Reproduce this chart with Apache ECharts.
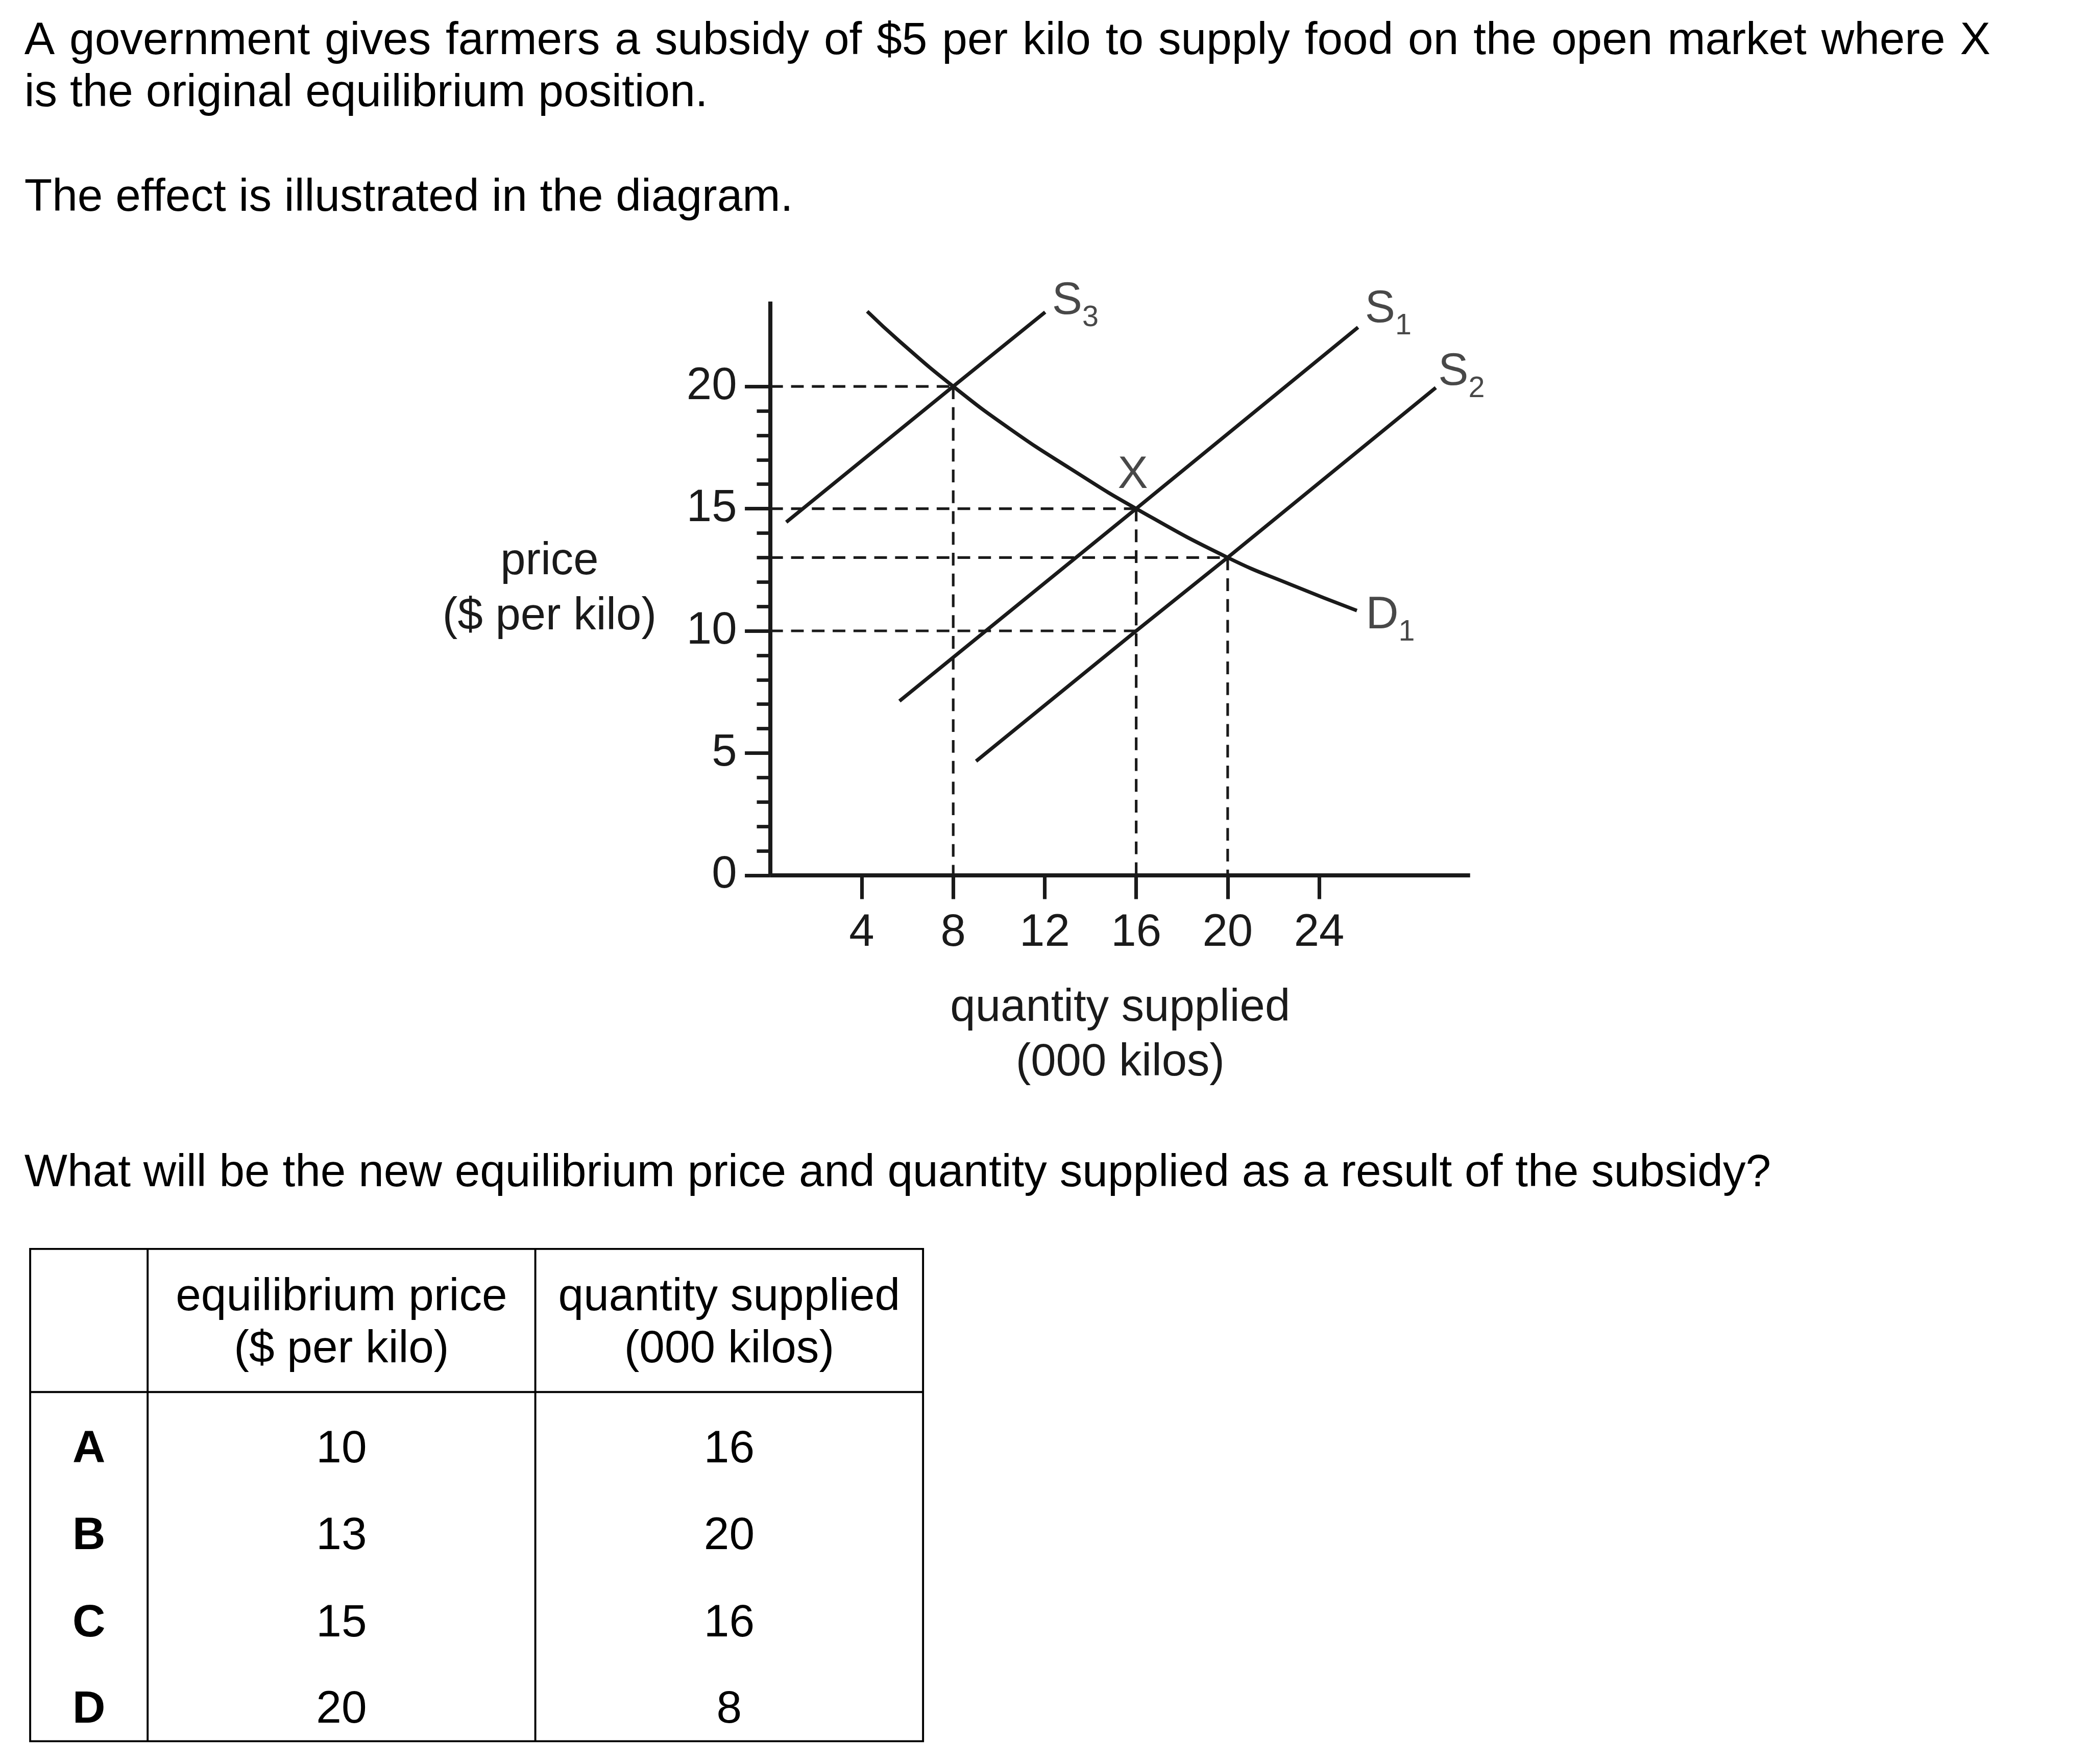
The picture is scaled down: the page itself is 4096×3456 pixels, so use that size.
<!DOCTYPE html>
<html>
<head>
<meta charset="utf-8">
<script src="https://cdn.jsdelivr.net/npm/echarts@6/dist/echarts.min.js"></script>
<style>
  html, body { margin: 0; padding: 0; background: #ffffff; }
  #chart { width: 4096px; height: 3456px; }
</style>
</head>
<body>
<div id="chart"></div>
<script>
// ---------------- data ----------------
const xTickValues = [4, 8, 12, 16, 20, 24];
const yTickValues = [0, 5, 10, 15, 20];
const yMinorTickValues = [1, 2, 3, 4, 6, 7, 8, 9, 11, 12, 13, 14, 16, 17, 18, 19];
const xAxisMax = 30.6;
const yAxisMax = 23.47;

const supplyS1 = [[5.65, 7.13], [16, 15], [25.7, 22.42]];
const supplyS2 = [[9.0, 4.67], [16, 10], [20, 13], [29.1, 19.95]];
const supplyS3 = [[0.7, 14.45], [8, 20], [12.02, 23.04]];
const demandD1 = [[4.24, 23.07], [5.65, 21.85], [8, 20], [10.5, 18.25], [13.1, 16.65],
                  [16, 15], [20, 13], [22.8, 11.88], [25.65, 10.83]];
const equilibriumX = [16, 15];
const horizontalGuides = [[8, 20], [16, 15], [20, 13], [16, 10]];
const verticalGuides = [[8, 20], [16, 15], [20, 13]];

const questionLines = [
  'A government gives farmers a subsidy of $5 per kilo to supply food on the open market where X',
  'is the original equilibrium position.',
  'The effect is illustrated in the diagram.'
];
const questionPrompt = 'What will be the new equilibrium price and quantity supplied as a result of the subsidy?';
const tableHeaders = [['equilibrium price', '($ per kilo)'], ['quantity supplied', '(000 kilos)']];
const optionLetters = ['A', 'B', 'C', 'D'];
const optionPrices = ['10', '13', '15', '20'];
const optionQuantities = ['16', '20', '16', '8'];

// ---------------- layout / style ----------------
const S = 0.975;
const INK = '#1a1a1a';
const FONT = '"Liberation Sans", Arial, Helvetica, sans-serif';
const FS = 91 * S;      // diagram text
const FQ = 91.5 * S;    // question text
const SUB = 59 * S;     // subscripts
const K = 0.276;        // em-centre ("middle" baseline) above alphabetic baseline, fraction of font size

const X0 = 1547.5 * S, Y0 = 1759 * S, XR = 2953.6 * S, YT = 606 * S;

const last = arr => arr[arr.length - 1];

const graphics = [];
function text(str, x, baseline, fs, opts) {
  opts = opts || {};
  const style = {
    text: str, fontSize: fs, fontFamily: FONT, fill: opts.fill || '#000',
    fontWeight: opts.weight || 'normal', align: opts.align || 'left', verticalAlign: 'middle'
  };
  if (opts.rich) style.rich = opts.rich;
  graphics.push({ type: 'text', x: x, y: baseline - K * fs, silent: true, style: style });
}

// question text (first line justified to the paragraph width)
const qLeft = 49 * S, qRight = 3999 * S;
const qBase = [108.3, 213.3, 424];
(function () {
  const ctx = document.createElement('canvas').getContext('2d');
  ctx.font = FQ + 'px ' + FONT;
  const line = questionLines[0];
  const words = line.split(' ');
  const natural = ctx.measureText(line).width;
  const spaceW = ctx.measureText(' ').width;
  const extra = Math.max(0, (qRight - qLeft - natural) / (words.length - 1));
  const richText = words.join('{sp| }');
  text(richText, qLeft, qBase[0] * S, FQ, { rich: { sp: { width: spaceW + extra, fontSize: FQ, fontFamily: FONT } } });
})();
text(questionLines[1], qLeft, qBase[1] * S, FQ);
text(questionLines[2], qLeft, qBase[2] * S, FQ);
text(questionPrompt, qLeft, 2384 * S, FQ);

// y axis title
text('price', 1104 * S, 1154.3 * S, FS, { align: 'center', fill: INK });
text('($ per kilo)', 1104 * S, 1265 * S, FS, { align: 'center', fill: INK });

// table
const tL = 60.6 * S, tT = 2509.6 * S, tR = 1854.5 * S, tB = 3498.8 * S;
const c1 = 296.6 * S, c2 = 1075.5 * S, hB = 2797.2 * S, TW = 4 * S;
graphics.push({ type: 'rect', silent: true, shape: { x: tL, y: tT, width: tR - tL, height: tB - tT },
  style: { fill: 'none', stroke: '#000', lineWidth: TW } });
[c1, c2].forEach(cx => graphics.push({ type: 'line', silent: true,
  shape: { x1: cx, y1: tT, x2: cx, y2: tB }, style: { stroke: '#000', lineWidth: TW } }));
graphics.push({ type: 'line', silent: true, shape: { x1: tL, y1: hB, x2: tR, y2: hB },
  style: { stroke: '#000', lineWidth: TW } });
const colCentres = [(tL + c1) / 2, (c1 + c2) / 2, (c2 + tR) / 2];
const headBase = [2632.7 * S, 2737.9 * S];
tableHeaders.forEach((h, j) => h.forEach((l, i) => text(l, colCentres[j + 1], headBase[i], FQ, { align: 'center' })));
const rowBase = [2938, 3113, 3288, 3462].map(v => v * S);
optionLetters.forEach((l, i) => {
  text(l, colCentres[0], rowBase[i], FQ, { align: 'center', weight: 'bold' });
  text(optionPrices[i], colCentres[1], rowBase[i], FQ, { align: 'center' });
  text(optionQuantities[i], colCentres[2], rowBase[i], FQ, { align: 'center' });
});

// ---------------- series ----------------
function guide(data) {
  return { type: 'line', data: data, symbol: 'none', silent: true, z: 1, clip: false,
    lineStyle: { color: INK, width: 5.3 * S, type: [25.5 * S, 16.3 * S], cap: 'butt' } };
}
function curve(data, smooth) {
  return { type: 'line', data: data, symbol: 'none', silent: true, z: 3, clip: false,
    smooth: smooth || false,
    lineStyle: { color: INK, width: 7.3 * S, cap: 'butt', join: 'round' } };
}
const subRich = {
  s: { fontSize: FS, lineHeight: FS, fontFamily: FONT, color: INK },
  b: { fontSize: SUB, lineHeight: SUB, fontFamily: FONT, color: INK, padding: [66.8 * S, 0, 0, 0] }
};
function subLabel(point, main, sub, offset) {
  return { value: point, label: { show: true, position: 'right', distance: 0, offset: offset,
    formatter: '{s|' + main + '}{b|' + sub + '}', rich: subRich } };
}

const series = [];
horizontalGuides.forEach(p => series.push(guide([[0, p[1]], [p[0], p[1]]])));
verticalGuides.forEach(p => series.push(guide([[p[0], p[1]], [p[0], 0]])));
series.push(curve(supplyS3));
series.push(curve(supplyS1));
series.push(curve(supplyS2));
series.push(curve(demandD1, 0.5));
series.push({
  type: 'scatter', symbolSize: 1, silent: true, z: 5, clip: false,
  itemStyle: { color: 'rgba(0,0,0,0)' },
  data: [
    subLabel(last(supplyS3), 'S', '3', [13.0, -20.5]),
    subLabel(last(supplyS1), 'S', '1', [13.1, -34.5]),
    subLabel(last(supplyS2), 'S', '2', [4.3, -29.7]),
    subLabel(last(demandD1), 'D', '1', [17.0, 10.4]),
    { value: equilibriumX, label: { show: true, position: 'inside', formatter: 'X',
      offset: [-6.5, -65.1], fontSize: FS, fontFamily: FONT, color: INK } }
  ]
});

const axisLineStyle = { color: INK, width: 8.3 * S, cap: 'butt' };
const option = {
  animation: false,
  backgroundColor: '#ffffff',
  grid: { left: X0, top: YT, right: 4096 - XR, bottom: 3456 - Y0, containLabel: false, outerBoundsMode: 'none' },
  xAxis: {
    type: 'value', min: 0, max: xAxisMax,
    axisLine: { show: true, onZero: false, lineStyle: axisLineStyle },
    axisTick: { show: true, customValues: xTickValues, length: 47.7 * S, lineStyle: { color: INK, width: 7.3 * S } },
    axisLabel: { show: true, customValues: xTickValues, margin: 69.1, fontSize: FS, lineHeight: FS,
      fontFamily: FONT, color: INK },
    splitLine: { show: false },
    name: 'quantity supplied\n(000 kilos)', nameLocation: 'middle', nameGap: 206.6,
    nameTextStyle: { fontSize: FS, lineHeight: 110 * S, fontFamily: FONT, color: INK }
  },
  yAxis: [{
    type: 'value', min: 0, max: yAxisMax, position: 'left',
    axisLine: { show: true, onZero: false, lineStyle: axisLineStyle },
    axisTick: { show: true, customValues: yTickValues, length: 51 * S, lineStyle: { color: INK, width: 7 * S } },
    axisLabel: { show: true, customValues: yTickValues, margin: 67 * S, fontSize: FS, lineHeight: FS,
      padding: [8.2, 0, 0, 0], fontFamily: FONT, color: INK },
    splitLine: { show: false }
  }, {
    type: 'value', min: 0, max: yAxisMax, position: 'left', offset: 0,
    axisLine: { show: false },
    axisTick: { show: true, customValues: yMinorTickValues, length: 27 * S, lineStyle: { color: INK, width: 7 * S } },
    axisLabel: { show: false },
    splitLine: { show: false }
  }],
  series: series,
  graphic: { elements: graphics }
};

const chart = echarts.init(document.getElementById('chart'), null, { renderer: 'canvas', width: 4096, height: 3456 });
chart.setOption(option);
</script>
</body>
</html>
